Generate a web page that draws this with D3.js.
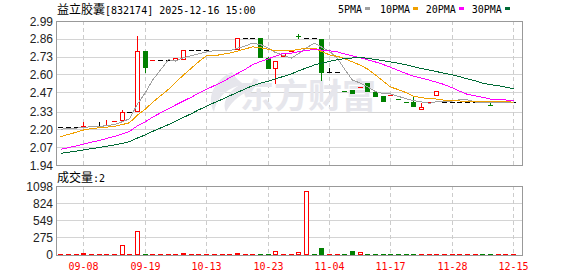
<!DOCTYPE html>
<html><head><meta charset="utf-8">
<script src="https://cdn.jsdelivr.net/npm/d3@7"></script>
<style>body{margin:0;background:#fff}svg{display:block}</style>
</head><body><svg id="c" width="578" height="276"></svg>
<script>
// ---- data ----
const opens  = [2.215,2.215,2.215,2.227,2.227,2.227,2.232,2.263,2.268,2.33, 2.334,2.771,2.706,2.706,2.706,2.706,2.711,2.776,2.776,2.776, 2.776,2.776,2.776,2.784,2.864,2.864,2.868,2.718,2.645,2.735, 2.773,2.881,2.864,2.864,2.859,2.616,2.616,2.482,2.487,2.507, 2.54,2.475,2.443,2.448,2.419,2.397,2.402,2.346,2.399,2.448, 2.399,2.399,2.399,2.399,2.399,2.399,2.375,2.399,2.399,2.399];
const closes = [2.215,2.215,2.215,2.227,2.227,2.227,2.232,2.263,2.33,2.33, 2.771,2.652,2.706,2.706,2.706,2.72,2.776,2.776,2.776,2.776, 2.776,2.776,2.776,2.864,2.864,2.864,2.725,2.645,2.70,2.759, 2.773,2.881,2.864,2.864,2.62,2.616,2.616,2.482,2.463,2.507, 2.482,2.443,2.409,2.448,2.419,2.397,2.373,2.361,2.399,2.477, 2.399,2.399,2.399,2.399,2.399,2.399,2.375,2.399,2.399,2.399];
const highs  = [2.215,2.215,2.215,2.251,2.227,2.251,2.268,2.263,2.341,2.33, 2.881,2.771,2.706,2.706,2.706,2.72,2.776,2.776,2.776,2.776, 2.776,2.776,2.776,2.864,2.864,2.864,2.868,2.725,2.70,2.759, 2.773,2.895,2.864,2.864,2.859,2.65,2.616,2.482,2.487,2.507, 2.54,2.475,2.443,2.448,2.419,2.397,2.438,2.394,2.399,2.477, 2.399,2.399,2.399,2.399,2.399,2.399,2.407,2.399,2.399,2.399];
const lows   = [2.215,2.215,2.215,2.227,2.227,2.227,2.232,2.263,2.268,2.33, 2.334,2.62,2.706,2.706,2.706,2.706,2.711,2.776,2.776,2.776, 2.776,2.776,2.776,2.784,2.864,2.864,2.725,2.645,2.54,2.735, 2.773,2.864,2.864,2.864,2.56,2.616,2.616,2.482,2.463,2.507, 2.482,2.443,2.409,2.448,2.419,2.397,2.373,2.346,2.399,2.448, 2.399,2.399,2.399,2.399,2.399,2.399,2.375,2.399,2.399,2.399];
// price change sign per day: 1 up, -1 down, 0 unchanged
const change = [0,0,0,1,0,0,1,1,1,0, 1,-1,1,0,0,1,1,0,0,0, 0,0,0,1,0,0,-1,-1,1,1, 1,-1,0,0,-1,0,0,-1,-1,1, -1,-1,-1,1,-1,-1,-1,1,1,1, 0,0,0,0,0,0,-1,1,0,0];
const volumes = [2,2,2,30,2,2,2,2,155,2, 371,2,2,2,2,2,25,2,2,2, 2,2,2,25,2,2,2,2,60,2, 2,35,1020,2,112,2,2,2,53,43, 2,2,2,2,2,2,2,2,2,2, 2,2,2,2,2,2,2,2,2,2];
const volChange = [1,1,1,1,1,1,1,1,1,1, 1,-1,1,1,1,1,1,1,1,1, 1,1,1,1,1,1,-1,-1,1,1, 1,1,1,-1,-1,1,1,-1,-1,1, -1,-1,-1,-1,-1,-1,-1,1,1,1, 1,1,1,1,1,-1,-1,1,1,1];
const ma5  = [2.201,2.206,2.209,2.214,2.220,2.222,2.226,2.235,2.256,2.277, 2.385,2.469,2.558,2.633,2.708,2.698,2.723,2.737,2.750,2.764, 2.774,2.774,2.774,2.791,2.809,2.828,2.818,2.792,2.760,2.739, 2.720,2.752,2.795,2.828,2.800,2.769,2.716,2.640,2.559,2.537, 2.510,2.475,2.461,2.458,2.440,2.423,2.409,2.400,2.390,2.401, 2.402,2.407,2.415,2.415,2.399,2.399,2.394,2.394,2.394,2.394];
const ma10 = [2.1465,2.163,2.1795,2.1952,2.2059,2.2116,2.2158,2.2221,2.2351,2.2481, 2.304,2.3474,2.397,2.4444,2.492,2.542,2.596,2.647,2.692,2.736, 2.736,2.748,2.755,2.771,2.787,2.801,2.796,2.783,2.775,2.774, 2.773,2.783,2.793,2.793,2.768,2.743,2.732,2.716,2.692,2.667, 2.640,2.596,2.550,2.509,2.489,2.467,2.442,2.430,2.424,2.421, 2.4125,2.408,2.407,2.402,2.400,2.400,2.401,2.404,2.404,2.397];
const ma20 = [2.054,2.0668,2.0795,2.0929,2.1062,2.1196,2.1332,2.1484,2.1668,2.1853, 2.2259,2.2556,2.2884,2.3202,2.3495,2.377,2.4065,2.435,2.4637,2.4923, 2.519,2.547,2.575,2.607,2.639,2.671,2.695,2.715,2.7335,2.755, 2.755,2.767,2.775,2.783,2.778,2.773,2.765,2.750,2.735,2.722, 2.707,2.691,2.672,2.652,2.629,2.606,2.588,2.573,2.558,2.544, 2.526,2.502,2.479,2.455,2.444,2.4335,2.421,2.417,2.414,2.409];
const ma30 = [2.025,2.0333,2.0416,2.0502,2.0589,2.0676,2.0764,2.0863,2.0981,2.1102, 2.137,2.1601,2.185,2.2098,2.2347,2.26,2.2873,2.3144,2.3415,2.3686, 2.3957,2.4198,2.4439,2.4704,2.4952,2.5183,2.5361,2.551,2.5676,2.5863, 2.6044,2.6266,2.6483,2.6695,2.6826,2.6956,2.7084,2.7157,2.7204,2.7263, 2.7167,2.7097,2.6998,2.6912,2.6817,2.6709,2.6574,2.6437,2.6312,2.6213, 2.6088,2.5964,2.5839,2.5684,2.5529,2.5374,2.5258,2.5176,2.5075,2.4955];
const priceTicks = [1.94,2.07,2.20,2.33,2.47,2.60,2.73,2.86,2.99];
const priceTickLabels = ["1.94","2.07","2.20","2.33","2.47","2.60","2.73","2.86","2.99"];
const volTicks = [0,275,549,824,1098];
const dateIndex = [3,11,19,27,35,43,51,59];
const dateLabels = ["09-08","09-19","10-13","10-23","11-04","11-17","11-28","12-15"];
const maNames = ["5PMA","10PMA","20PMA","30PMA"];
const titleName = "益立胶囊";
const titleCode = "[832174] 2025-12-16 15:00";
const volTitle = "成交量";
const lastVol = "2";

// ---- layout ----
const svg = d3.select("#c");
const N = closes.length;
const L = 56, R = 522.5, T = 21, B = 165, VT = 186, VB = 254.5;
const step = 7.675;
const x = d3.scaleBand().domain(d3.range(N)).range([56.5, 56.5 + N*step]);
const cx = i => Math.round(x(i) + x.bandwidth()/2);
const y = d3.scaleLinear().domain([1.94, 2.99]).range([B, T]);
const yv = d3.scaleLinear().domain([0, 1098]).range([VB, VT]);
const RED = "#ff0000", GREEN = "#008000", BLACK = "#000000";
const maColors = ["#a0a0a0", "#f0a000", "#ff00ff", "#006a35"];
const col = d => d > 0 ? RED : d < 0 ? GREEN : BLACK;

const g = svg.append("g").attr("shape-rendering", "crispEdges");

// horizontal grid
g.selectAll(".hg").data(priceTicks).join("line")
  .attr("x1", L).attr("x2", R)
  .attr("y1", d => Math.round(y(d)) + 0.5).attr("y2", d => Math.round(y(d)) + 0.5)
  .attr("stroke", "#d4d4d4");
g.selectAll(".vhg").data(volTicks).join("line")
  .attr("x1", L).attr("x2", R)
  .attr("y1", d => Math.round(yv(d)) + 0.5).attr("y2", d => Math.round(yv(d)) + 0.5)
  .attr("stroke", "#d4d4d4");
// vertical dashed grid
dateIndex.forEach(i => {
  [[T, B], [VT, VB]].forEach(([a, b]) => {
    g.append("line").attr("x1", cx(i) + 0.5).attr("x2", cx(i) + 0.5)
      .attr("y1", a).attr("y2", b).attr("stroke", "#cccccc").attr("stroke-dasharray", "4,3");
  });
});

// watermark
const wm = svg.append("g").attr("fill", "#e6e6ec");
wm.append("path").attr("d", "M232,72 C214,80 206,98 214,112 C216,100 224,90 238,86 C226,94 222,104 226,112 C232,100 244,92 252,90 C244,84 236,80 232,72 Z");
wm.append("text").attr("x", 240).attr("y", 108).attr("font-family", "Noto Sans CJK SC")
  .attr("font-weight", "bold").attr("font-size", 34).text("东方财富");

// candles
const cg = svg.append("g").attr("shape-rendering", "crispEdges");
d3.range(N).forEach(i => {
  const c = col(change[i]);
  const px = cx(i);
  const yo = Math.round(y(opens[i])), yc = Math.round(y(closes[i]));
  const yh = Math.round(y(highs[i])), yl = Math.round(y(lows[i]));
  if (yh !== yl) cg.append("line").attr("x1", px + 0.5).attr("x2", px + 0.5)
      .attr("y1", yh).attr("y2", yl + 1).attr("stroke", c);
  if (yo === yc) {
    cg.append("line").attr("x1", px - 2).attr("x2", px + 3)
      .attr("y1", yc + 0.5).attr("y2", yc + 0.5).attr("stroke", c);
  } else if (closes[i] > opens[i]) {
    cg.append("rect").attr("x", px - 1.5).attr("y", yc + 0.5).attr("width", 4).attr("height", yo - yc)
      .attr("fill", "#fff").attr("stroke", RED);
  } else {
    cg.append("rect").attr("x", px - 2).attr("y", yo).attr("width", 5).attr("height", yc - yo + 1)
      .attr("fill", GREEN);
  }
});

// MA lines
[ma5, ma10, ma20, ma30].forEach((arr, k) => {
  svg.append("path").datum(arr)
    .attr("d", d3.line().x((d, i) => cx(i) + 0.5).y(d => y(d)))
    .attr("fill", "none").attr("stroke", maColors[k]).attr("stroke-width", 1)
    .attr("shape-rendering", "crispEdges");
});

// volume bars
const vg = svg.append("g").attr("shape-rendering", "crispEdges");
volumes.forEach((v, i) => {
  const c = volChange[i] > 0 ? RED : GREEN;
  const px = cx(i);
  const top = Math.round(yv(v));
  const h = Math.max(1, Math.round(VB) - top);
  if (h <= 2) {
    vg.append("rect").attr("x", px - 2).attr("y", Math.round(VB) - h).attr("width", 5).attr("height", h).attr("fill", c);
  } else if (volChange[i] > 0) {
    vg.append("rect").attr("x", px - 1.5).attr("y", top + 0.5).attr("width", 4).attr("height", h - 1)
      .attr("fill", "#fff").attr("stroke", c);
  } else {
    vg.append("rect").attr("x", px - 2).attr("y", top).attr("width", 5).attr("height", h).attr("fill", c);
  }
});

// borders
g.append("rect").attr("x", L + 0.5).attr("y", T + 0.5).attr("width", R - L - 1).attr("height", B - T)
  .attr("fill", "none").attr("stroke", "#999");
g.append("rect").attr("x", L + 0.5).attr("y", VT + 0.5).attr("width", R - L - 1).attr("height", Math.round(VB) - VT)
  .attr("fill", "none").attr("stroke", "#999");

// axis labels
const lab = svg.append("g").attr("font-family", "Liberation Sans, Arial, sans-serif").attr("font-size", 12)
  .attr("fill", "#222").attr("text-anchor", "end");
priceTicks.forEach((t, k) => lab.append("text").attr("x", 53).attr("y", y(t) + 4.5).text(priceTickLabels[k]));
volTicks.forEach(t => lab.append("text").attr("x", 53).attr("y", yv(t) + 4.5).text(t));

svg.append("g").attr("font-family", "DejaVu Sans Mono, monospace").attr("font-size", 10)
  .attr("fill", RED).attr("text-anchor", "middle")
  .selectAll("text").data(dateIndex).join("text")
  .attr("x", d => cx(d) + 0.5).attr("y", 270).text((d, k) => dateLabels[k]);

// title
const tt = svg.append("text").attr("x", 57).attr("y", 14).attr("fill", "#000");
tt.append("tspan").attr("font-family", "Noto Sans CJK SC").attr("font-size", 12).text(titleName);
tt.append("tspan").attr("font-family", "DejaVu Sans Mono, monospace").attr("font-size", 10).text(titleCode);

const vt = svg.append("text").attr("x", 57).attr("y", 182).attr("fill", "#000");
vt.append("tspan").attr("font-family", "Noto Sans CJK SC").attr("font-size", 12).text(volTitle);
vt.append("tspan").attr("font-family", "DejaVu Sans Mono, monospace").attr("font-size", 10).text(":" + lastVol);

// legend
const legX = [338, 380, 425.7, 471.7];
maNames.forEach((n, k) => {
  const t = svg.append("text").attr("x", legX[k]).attr("y", 12.5)
    .attr("font-family", "DejaVu Sans Mono, monospace").attr("font-size", 10).attr("fill", "#000").text(n);
  const w = n.length * 6.02;
  svg.append("rect").attr("x", Math.round(legX[k] + w + 3)).attr("y", 7).attr("width", 5).attr("height", 3)
    .attr("fill", maColors[k]);
});
</script></body></html>
